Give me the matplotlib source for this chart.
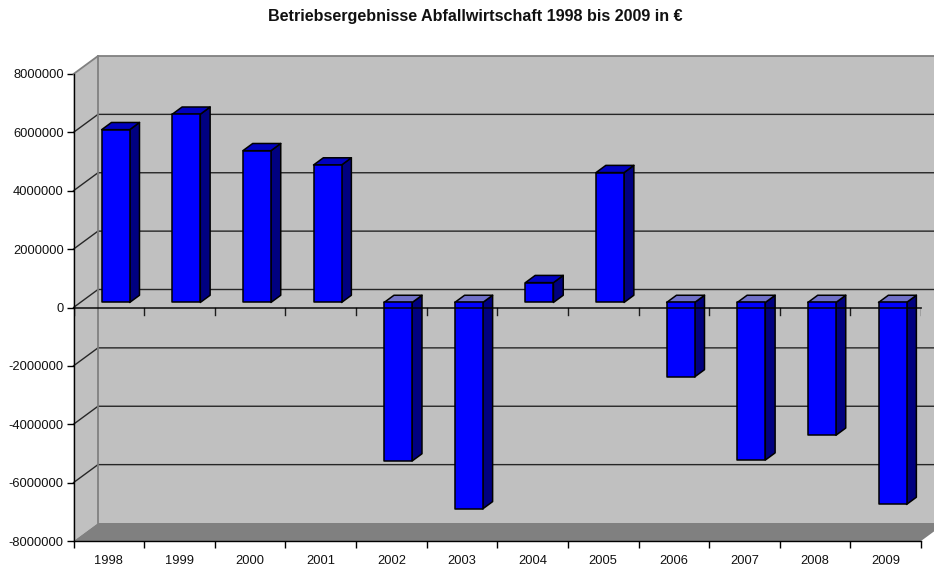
import numpy as np
import matplotlib
matplotlib.use('Agg')
import matplotlib.pyplot as plt
from matplotlib.patches import Polygon

plt.rcParams['font.family'] = ['Liberation Sans', 'DejaVu Sans']

years = ['1998', '1999', '2000', '2001', '2002', '2003', '2004', '2005', '2006', '2007', '2008', '2009']
results = [5920000, 6450000, 5200000, 4710000, -5430000, -7070000,
           680000, 4450000, -2550000, -5400000, -4550000, -6920000]
y_ticks = [-8000000, -6000000, -4000000, -2000000, 0, 2000000, 4000000, 6000000, 8000000]

W, H = 934, 567
fig = plt.figure(figsize=(W / 100, H / 100), dpi=100)
# front plane of the fake 3D box
left, right, top, bottom = 73.5, 921, 74, 541
ax = fig.add_axes([left / W, 1 - bottom / H, (right - left) / W, (bottom - top) / H])
ax.set_xlim(0, len(years))
ax.set_ylim(y_ticks[0], y_ticks[-1])
ax.patch.set_visible(False)

# depth offset of the back wall, in data units
depth_x = 24.5 / (right - left) * len(years)
depth_y = 18 / (bottom - top) * (y_ticks[-1] - y_ticks[0])


def proj(x, v, d):
    # d = 0 front plane, d = 1 back wall
    return (x + d * depth_x, v + d * depth_y)


def face(points, color, z, edge='none', lw=0.0):
    ax.add_patch(Polygon(points, closed=True, facecolor=color, edgecolor=edge, linewidth=lw,
                         zorder=z, clip_on=False, joinstyle='round'))


n = len(years)
vmin, vmax = y_ticks[0], y_ticks[-1]
wall = '#C0C0C0'
wall_edge = '#808080'

# walls and floor
face([proj(0, vmin, 1), proj(n, vmin, 1), proj(n, vmax, 1), proj(0, vmax, 1)], wall, 1)
face([proj(0, vmin, 0), proj(0, vmin, 1), proj(0, vmax, 1), proj(0, vmax, 0)], wall, 1)
face([proj(0, vmin, 0), proj(n, vmin, 0), proj(n, vmin, 1), proj(0, vmin, 1)], '#808080', 2)

# grid lines over both walls
for v in y_ticks[1:-1]:
    xs, ys = zip(proj(0, v, 0), proj(0, v, 1), proj(n, v, 1))
    ax.plot(xs, ys, color='black', lw=1.0, alpha=0.8, zorder=3, clip_on=False)
xs, ys = zip(proj(0, vmax, 0), proj(0, vmax, 1), proj(n, vmax, 1))
ax.plot(xs, ys, color=wall_edge, lw=1.3, zorder=3, clip_on=False)
xs, ys = zip(proj(0, vmin, 1), proj(0, vmax, 1))
ax.plot(xs, ys, color=wall_edge, lw=1.3, zorder=3, clip_on=False)

# bars
bar_w = 0.397
d0, d1 = 0.28, 0.68
for i, val in enumerate(results):
    x0 = i + 0.5 - bar_w / 2
    x1 = x0 + bar_w
    hi, lo = max(val, 0), min(val, 0)
    top_color = '#0000C0' if val > 0 else '#7070C8'
    z = 5 + i * 0.01
    face([proj(x1, lo, d0), proj(x1, lo, d1), proj(x1, hi, d1), proj(x1, hi, d0)],
         '#000080', z, 'black', 1.1)
    face([proj(x0, hi, d0), proj(x1, hi, d0), proj(x1, hi, d1), proj(x0, hi, d1)],
         top_color, z, 'black', 1.1)
    face([proj(x0, lo, d0), proj(x1, lo, d0), proj(x1, hi, d0), proj(x0, hi, d0)],
         '#0000FF', z, 'black', 1.1)

# zero axis with its ticks, drawn over the bars
ax.plot([0, n], [0, 0], color='black', lw=1.3, alpha=0.8, zorder=7, clip_on=False)
for i in range(n + 1):
    ax.plot([i, i], [0, -7 / (bottom - top) * (vmax - vmin)], color='black', lw=1.0, alpha=0.85, zorder=7)

for side in ['top', 'right']:
    ax.spines[side].set_visible(False)
for side in ['left', 'bottom']:
    ax.spines[side].set_linewidth(1.0)
    ax.spines[side].set_zorder(8)

ax.set_yticks(y_ticks)
ax.set_yticklabels([str(v) for v in y_ticks], fontsize=9.3, color='#111111')
ax.set_xticks(np.arange(n + 1))
ax.set_xticklabels([])
ax.set_xticks(np.arange(n) + 0.5, minor=True)
ax.set_xticklabels(years, minor=True, fontsize=9.3, color='#111111')
ax.tick_params(axis='x', which='major', length=5, width=1.0)
ax.tick_params(axis='x', which='minor', length=0, pad=10)
ax.tick_params(axis='y', length=5, width=1.0, pad=2)

fig.text(475 / W, 1 - 16 / H, 'Betriebsergebnisse Abfallwirtschaft 1998 bis 2009 in €',
         ha='center', va='center', fontsize=11.6, fontweight='bold', color='#111111')

plt.savefig('out.png', dpi=100)
